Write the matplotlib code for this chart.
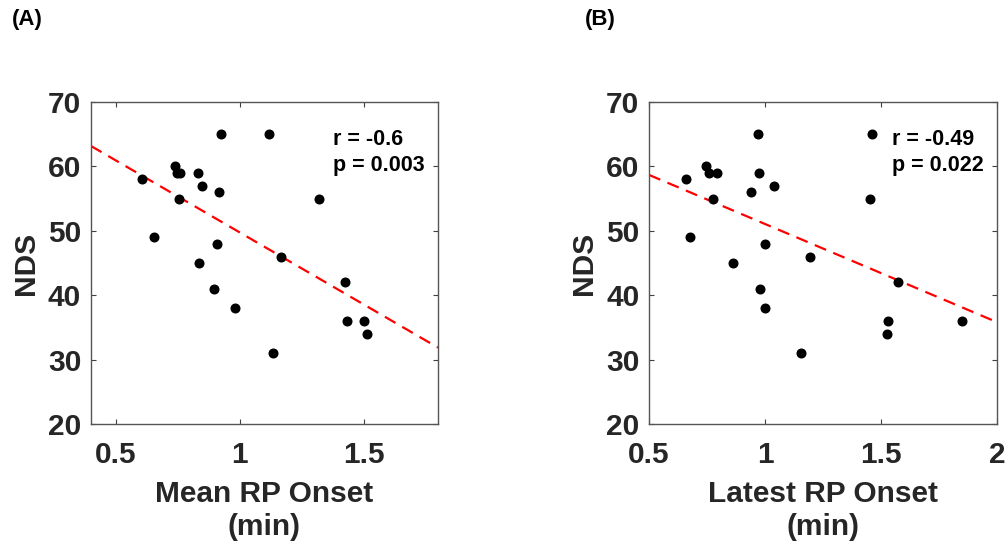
import numpy as np
import matplotlib.pyplot as plt

plt.rcParams['font.family'] = ['Liberation Sans', 'DejaVu Sans']
plt.rcParams['font.weight'] = 'bold'
plt.rcParams['axes.labelweight'] = 'bold'

# NDS scores (same subjects in both panels)
nds_a = [65, 65, 58, 60, 59, 59, 59, 57, 55, 56, 55,
         49, 48, 46, 45, 41, 38, 42, 36, 36, 34, 31]
mean_onset = [0.926, 1.119, 0.604, 0.739, 0.748, 0.759, 0.833, 0.849, 0.755, 0.916, 1.322,
              0.655, 0.910, 1.167, 0.836, 0.898, 0.981, 1.426, 1.433, 1.503, 1.513, 1.133]

nds_b = [65, 65, 58, 60, 59, 59, 55, 49, 56, 59, 57,
         55, 45, 48, 46, 41, 38, 42, 36, 36, 34, 31]
latest_onset = [0.969, 1.461, 0.661, 0.746, 0.759, 0.792, 0.777, 0.675, 0.939, 0.976, 1.039,
                1.454, 0.863, 1.001, 1.194, 0.977, 1.001, 1.573, 1.531, 1.848, 1.524, 1.156]

stats_a = ['r = -0.6', 'p = 0.003']
stats_b = ['r = -0.49', 'p = 0.022']

txt = '#262626'


def panel(ax, x, y, xlim, xticks, xlabel, stats, stats_x):
    ax.plot(x, y, 'o', color='black', markersize=6.2, zorder=3)

    # least-squares line across the whole x range
    k, b = np.polyfit(x, y, 1)
    xs = np.array(xlim)
    ax.plot(xs, k * xs + b, color='red', lw=1.6, dashes=(5.5, 3.5), zorder=2)

    ax.set_xlim(xlim)
    ax.set_ylim(20, 70)
    ax.set_xticks(xticks)
    ax.set_xticklabels([f'{t:g}' for t in xticks])
    ax.set_yticks([20, 30, 40, 50, 60, 70])
    ax.tick_params(direction='in', length=3.5, width=0.8, color='#404040',
                   top=True, right=True, labelsize=21.5, labelcolor=txt)
    ax.tick_params(axis='x', pad=12)
    ax.tick_params(axis='y', pad=7)
    for s in ax.spines.values():
        s.set_color('#555555')
        s.set_linewidth(1.0)

    ax.set_xlabel(xlabel + '\n(min)', fontsize=21.5, color=txt, labelpad=8,
                  linespacing=1.25)
    ax.set_ylabel('NDS', fontsize=21.5, color=txt, labelpad=6)

    ax.text(stats_x, 64.1, stats[0], fontsize=15.5, color='black', va='center')
    ax.text(stats_x, 60.2, stats[1], fontsize=15.5, color='black', va='center')
    return ax


fig = plt.figure(figsize=(10.05, 5.49), dpi=100)
ax1 = fig.add_axes([0.0905, 0.2277, 0.3453, 0.5865])
ax2 = fig.add_axes([0.6458, 0.2277, 0.3463, 0.5865])

panel(ax1, mean_onset, nds_a, (0.4, 1.8), [0.5, 1, 1.5], 'Mean RP Onset',
      stats_a, 1.376)
panel(ax2, latest_onset, nds_b, (0.5, 2.0), [0.5, 1, 1.5, 2], 'Latest RP Onset',
      stats_b, 1.547)

fig.text(12 / 1005, 1 - 9 / 549, '(A)', fontsize=16, color='black', va='top')
fig.text(585 / 1005, 1 - 9 / 549, '(B)', fontsize=16, color='black', va='top')

fig.savefig('out.png', dpi=100)
